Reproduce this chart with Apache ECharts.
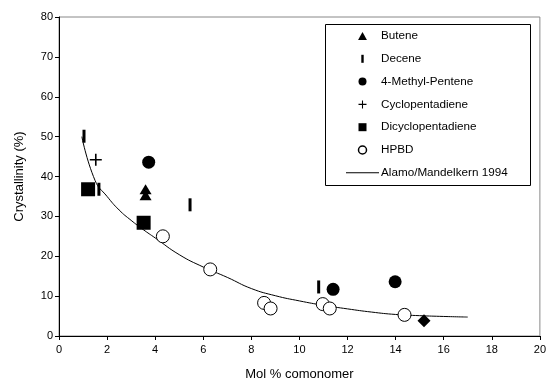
<!DOCTYPE html>
<html>
<head>
<meta charset="utf-8">
<script src="https://cdn.jsdelivr.net/npm/echarts@6/dist/echarts.min.js"></script>
<style>
  html, body { margin: 0; padding: 0; background: #fff; }
  #chart { width: 549px; height: 386px; }
</style>
</head>
<body>
<div id="chart"></div>
<script>
// values: [mol % comonomer, crystallinity %]
const butene = [[3.6, 36.8], [3.6, 35.3]]
const decene = [[1.04, 50.1], [1.66, 36.8], [5.45, 32.9], [10.8, 12.3]]
const methylPentene = [[3.73, 43.6], [11.4, 11.7], [13.98, 13.6]]
const cyclopentadiene = [[1.53, 44.2]]
const dicyclopentadiene = [[1.21, 36.8], [3.52, 28.4]]
const hpbd = [[4.32, 25], [6.29, 16.7], [8.53, 8.3], [8.8, 6.9], [10.97, 8], [11.26, 6.9], [14.37, 5.3]]
const extra = [[15.18, 3.8]]
const alamo = [
  [0.95, 50], [1.5, 39], [2, 35], [2.5, 31.6], [3, 29], [3.5, 26.7], [4, 24.6],
  [5, 20.4], [6, 17.3], [7, 14.7], [8, 11.9], [9, 10.1], [10, 8.8], [11, 7.7],
  [12, 6.8], [13, 6.0], [14, 5.4], [15, 5.1], [16, 4.9], [17, 4.75]
]

const xTicks = { min: 0, max: 20, interval: 2 }
const yTicks = { min: 0, max: 80, interval: 10 }

const chart = echarts.init(document.getElementById('chart'))
const font = 'Liberation Sans, Arial, sans-serif'
// path symbols keep their aspect ratio, also in the legend
const iBar = 'path://M0,0H3V10H0Z'
const plus = 'path://M5.2,0H6.8V5.2H12V6.8H6.8V12H5.2V6.8H0V5.2H5.2Z'
const tri = 'path://M5,0L10,9H0Z'
const square = 'path://M0,0H10V10H0Z'
const dash = 'path://M0,0H33V1H0Z'
const solid = { color: '#000', opacity: 1 }

chart.setOption({
  animation: false,
  textStyle: { fontFamily: font },
  grid: { left: 59, right: 7, top: 17, bottom: 50, show: true, borderColor: '#888', borderWidth: 1 },
  xAxis: {
    type: 'value', ...xTicks,
    name: 'Mol % comonomer', nameLocation: 'middle', nameGap: 32,
    nameTextStyle: { fontSize: 13, color: '#000' },
    axisLine: { lineStyle: { color: '#000' } },
    axisTick: { show: true, length: 4, lineStyle: { color: '#000' } },
    axisLabel: { color: '#000', fontSize: 11, margin: 8 },
    splitLine: { show: false }
  },
  yAxis: {
    type: 'value', ...yTicks,
    name: 'Crystallinity (%)', nameLocation: 'middle', nameGap: 33,
    nameTextStyle: { fontSize: 13, color: '#000' },
    axisLine: { show: true, lineStyle: { color: '#000' } },
    axisTick: { show: true, length: 4, lineStyle: { color: '#000' } },
    axisLabel: { color: '#000', fontSize: 11, margin: 6 },
    splitLine: { show: false }
  },
  graphic: [{
    type: 'rect', left: 325, top: 24, z: 0,
    shape: { width: 205, height: 161 },
    style: { fill: '#fff', stroke: '#000', lineWidth: 1 }
  }],
  legend: {
    orient: 'vertical', left: 346, top: 30, padding: 0,
    itemWidth: 33, itemHeight: 8, itemGap: 10.8,
    textStyle: { fontSize: 11.7, color: '#000', fontFamily: font, padding: [0, 0, 0, -3] },
    data: [
      { name: 'Butene', icon: tri },
      { name: 'Decene', icon: iBar },
      { name: '4-Methyl-Pentene', icon: 'circle' },
      { name: 'Cyclopentadiene', icon: plus },
      { name: 'Dicyclopentadiene', icon: square },
      { name: 'HPBD', icon: 'circle', itemStyle: { borderWidth: 1.5 } },
      { name: 'Alamo/Mandelkern 1994', icon: dash }
    ]
  },
  series: [
    { name: 'Alamo/Mandelkern 1994', type: 'line', data: alamo, smooth: true, symbol: 'none',
      lineStyle: { color: '#000', width: 1 }, itemStyle: { color: '#000' }, z: 1 },
    { name: 'Butene', type: 'scatter', data: butene, symbol: tri, symbolSize: [12, 10],
      itemStyle: solid },
    { name: 'Decene', type: 'scatter', data: decene, symbol: iBar, symbolSize: [3, 13],
      itemStyle: solid },
    { name: '4-Methyl-Pentene', type: 'scatter', data: methylPentene, symbol: 'circle', symbolSize: 13,
      itemStyle: solid },
    { name: 'Cyclopentadiene', type: 'scatter', data: cyclopentadiene, symbol: plus, symbolSize: 12,
      itemStyle: solid },
    { name: 'Dicyclopentadiene', type: 'scatter', data: dicyclopentadiene, symbol: square, symbolSize: 14,
      itemStyle: solid },
    { name: 'HPBD', type: 'scatter', data: hpbd, symbol: 'circle', symbolSize: 13,
      itemStyle: { color: '#fff', borderColor: '#000', borderWidth: 1, opacity: 1 } },
    { name: 'extra', type: 'scatter', data: extra, symbol: 'diamond', symbolSize: 13,
      itemStyle: solid }
  ]
})
</script>
</body>
</html>
